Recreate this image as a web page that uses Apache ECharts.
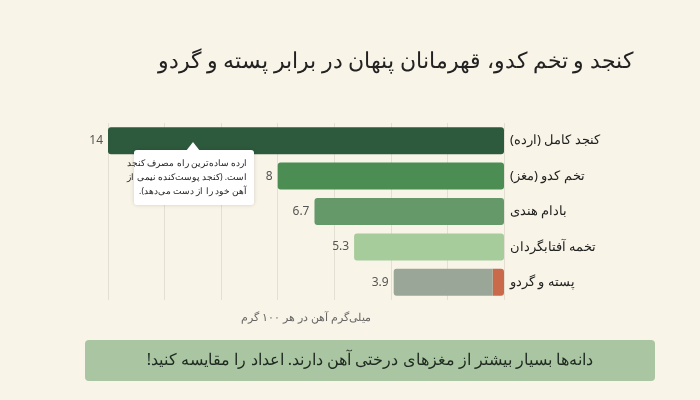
<!DOCTYPE html><html dir="rtl"><head><meta charset="utf-8"><script src="https://cdn.jsdelivr.net/npm/echarts@6/dist/echarts.min.js"></script></head><body style="margin:0;background:#f9f4e8"><div id="c" style="width:700px;height:400px"></div><script>
const categories=['کنجد کامل (ارده)','تخم کدو (مغز)','بادام هندی','تخمه آفتابگردان','پسته و گردو'];
const mainValues=[14,8,6.7,5.3,3.5];
const extraValues=[0,0,0,0,0.4];
const totals=[14,8,6.7,5.3,3.9];
const colors=['#2d5a3c','#4b8d53','#66996a','#a6cc9b','#9aa697'];
const F='"Noto Sans", sans-serif';
const ch=echarts.init(document.getElementById('c'));
ch.setOption({backgroundColor:'#f9f4e8',textStyle:{fontFamily:F},
title:{text:'کنجد و تخم کدو، قهرمانان پنهان در برابر پسته و گردو',right:62,top:46,textStyle:{fontSize:22,fontWeight:500,color:'#222',fontFamily:F}},
grid:{left:108,right:196,top:123,bottom:100},
xAxis:{type:'value',inverse:true,min:0,max:14,interval:2,axisLabel:{show:false},axisLine:{show:false},axisTick:{show:false},
 splitLine:{lineStyle:{color:'#e3dfd3'}},name:'میلی‌گرم آهن در هر ۱۰۰ گرم',nameLocation:'middle',nameGap:12,nameTextStyle:{fontSize:11,color:'#666'}},
yAxis:{type:'category',position:'right',inverse:true,data:categories,axisLine:{show:false},axisTick:{show:false},
 axisLabel:{fontSize:13,color:'#222',margin:6,align:'left'}},
series:[{type:'bar',stack:'a',barWidth:27,data:extraValues,itemStyle:{color:'#c96a4a',borderRadius:[0,3,3,0]}},
 {type:'bar',stack:'a',data:mainValues.map((v,i)=>({value:v,itemStyle:{color:colors[i],borderRadius:extraValues[i]?[3,0,0,3]:3}})),
 label:{show:true,position:'left',color:'#555',fontSize:12,formatter:p=>totals[p.dataIndex]}}],
graphic:[
 {type:'polygon',shape:{points:[[186,151],[193,142],[200,151]]},style:{fill:'#fff'},z:10},
 {type:'rect',shape:{x:134,y:150,width:120,height:55,r:3},style:{fill:'#fff',shadowBlur:4,shadowColor:'rgba(0,0,0,0.15)'},z:9},
 {type:'text',z:11,style:{x:247,y:157,text:'ارده ساده‌ترین راه مصرف کنجد\nاست. (کنجد پوست‌کنده نیمی از\nآهن خود را از دست می‌دهد).',fontSize:8.5,lineHeight:14,fill:'#222',align:'right',fontFamily:F}},
 {type:'rect',shape:{x:85,y:340,width:570,height:41,r:4},style:{fill:'#a9c5a1'}},
 {type:'text',style:{x:370,y:360,text:'دانه‌ها بسیار بیشتر از مغزهای درختی آهن دارند. اعداد را مقایسه کنید!',fontSize:16,fill:'#1f2a20',align:'center',verticalAlign:'middle',fontFamily:F}}
]});
</script></body></html>
